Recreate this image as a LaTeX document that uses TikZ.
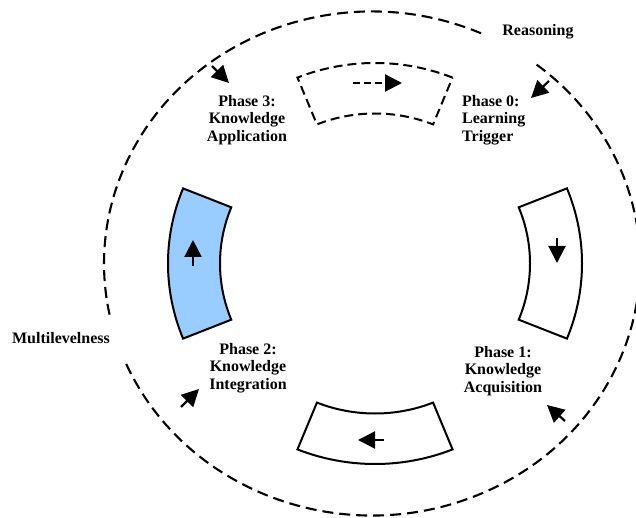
\documentclass[tikz,border=0pt]{standalone}
\usepackage{fontspec}
\setmainfont{Liberation Serif}
\usetikzlibrary{arrows.meta,calc}
\definecolor{phaseblue}{HTML}{99CCFF}
\tikzset{
  seg/.style={draw=black, line width=2pt, line join=miter, fill=white},
  orbit/.style={draw=black, line width=2.1pt, dash pattern=on 11pt off 6pt},
  flow/.style={line width=2.2pt, -{Triangle[length=17pt,width=17pt]}},
  lbl/.style={font=\fontsize{16}{17.5}\selectfont\bfseries, inner sep=0pt, align=center},
}
% annular sector of the phase ring between two angles
\newcommand\ringsector[2]{(sc) ++(#1:207pt and 200.5pt)
  arc[start angle=#1, end angle=#2, x radius=207pt, y radius=200.5pt]
  -- ($(sc)+(#2:155pt and 150pt)$)
  arc[start angle=#2, end angle=#1, x radius=155pt, y radius=150pt] -- cycle}
\begin{document}
\begin{tikzpicture}[x=1pt, y=1pt]
  \useasboundingbox (0,0) rectangle (636,517);
  \clip (0,0) rectangle (636,517);
  \coordinate (ec) at (372,253.5);
  \coordinate (sc) at (375,253.5);

  % outer cycle, broken for its two labels
  \draw[orbit] (ec) ++(66:268pt and 252pt)
    arc[start angle=66, end angle=192, x radius=268pt, y radius=252pt];
  \draw[orbit] (ec) ++(203.5:268pt and 252pt)
    arc[start angle=203.5, end angle=413, x radius=268pt, y radius=252pt];

  % the four phase sectors
  \path[seg, dash pattern=on 9pt off 5pt] \ringsector{68}{112};
  \path[seg] \ringsector{-22}{22};
  \path[seg] \ringsector{248}{292};
  \path[seg, fill=phaseblue] \ringsector{158}{202};

  % arrows inside the sectors
  \coordinate (t1) at (353,434); \coordinate (t2) at (402,434);
  \coordinate (r1) at (557,279); \coordinate (r2) at (557,254);
  \coordinate (b1) at (384,77);  \coordinate (b2) at (358,77);
  \coordinate (l1) at (193,251); \coordinate (l2) at (193,277);
  \draw[flow, dash pattern=on 7pt off 4pt] (t1) -- (t2);
  \draw[flow] (r1) -- (r2);
  \draw[flow] (b1) -- (b2);
  \draw[flow] (l1) -- (l2);

  % phase labels
  \node[lbl, align=left, anchor=west] (p0) at (462,397) {Phase 0:\\Learning\\Trigger};
  \node[lbl] (p1) at (503,146) {Phase 1:\\Knowledge\\Acquisition};
  \node[lbl] (p2) at (248,149) {Phase 2:\\Knowledge\\Integration};
  \node[lbl] (p3) at (247,397) {Phase 3:\\Knowledge\\Application};
  \node[lbl] (reas) at (538,485) {Reasoning};
  \node[lbl] (multi) at (61,179) {Multilevelness};

  % arrows from the outer cycle towards each phase
  \coordinate (a3s) at (212,451); \coordinate (a3e) at (229,434);
  \coordinate (a0s) at (549,436); \coordinate (a0e) at (531,419);
  \coordinate (a1s) at (565,96);  \coordinate (a1e) at (547,112);
  \coordinate (a2s) at (181,110); \coordinate (a2e) at (199,128);
  \draw[flow] (a3s) -- (a3e);
  \draw[flow] (a0s) -- (a0e);
  \draw[flow] (a1s) -- (a1e);
  \draw[flow] (a2s) -- (a2e);
\end{tikzpicture}
\end{document}
